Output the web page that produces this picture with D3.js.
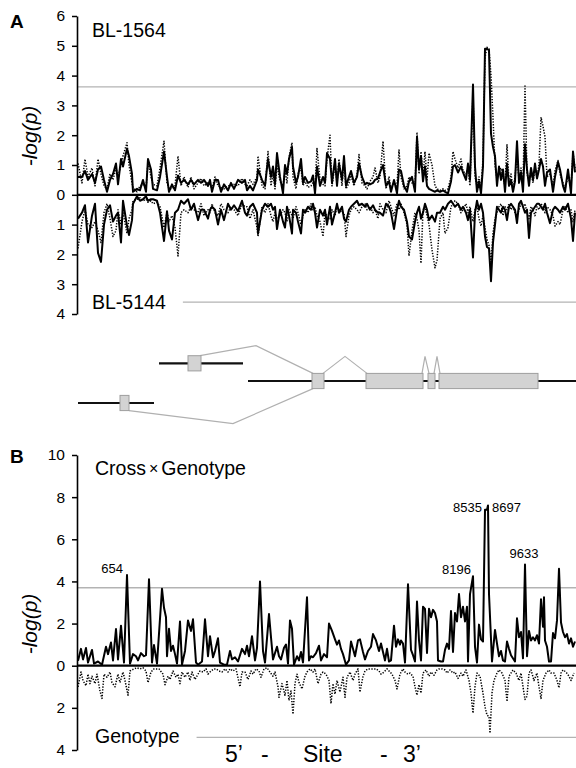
<!DOCTYPE html>
<html>
<head>
<meta charset="utf-8">
<script src="https://cdn.jsdelivr.net/npm/d3@7"></script>
<style>
  body { margin: 0; background: #fff; }
  svg { display: block; font-family: "Liberation Sans", Arial, sans-serif; }
</style>
</head>
<body>
<div id="chart"></div>
<script>
// ---- Panel A: BL-1564 (up) and BL-5144 (down), two tests each, same SNP sites
var aSites = [0,4,7,10,14,17,20,23,26,29,32,35,38,40,43,45,49,51,54,55,59,62,65,68,70,73,75,79,82,86,
  89,91,94,97,100,103,106,110,113,116,120,123,126,130,132,134,137,140,143,146,150,153,156,160,164,167,
  169,172,175,179,180,184,187,190,193,195,197,199,202,205,207,209,211,214,215,218,220,223,225,227,230,
  233,235,237,239,242,245,247,249,252,254,257,259,261,264,266,268,271,273,276,279,281,284,287,289,292,
  295,297,300,302,305,308,311,313,316,319,321,323,326,329,331,334,337,339,341,343,345,347,349,351,354,
  357,359,362,365,367,370,373,375,377,380,383,385,388,390,392,395,397,399,401,403,405,407,409,411,413,
  415,417,419,421,423,425,427,429,431,433,435,437,439,441,443,445,447,449,451,453,455,457,459,461,463,
  465,467,469,472,475,477,480,482,485,487,490,493,495,497];

var a1564Solid = [0.6,0.6,0.8,0.5,0.7,0.4,0.85,0.95,0.5,0.1,0.5,0.7,1.05,0.35,1.2,0.95,1.55,1.3,0.7,0.1,
  0.2,0.15,0.5,0.1,1.2,0.85,0.2,0.15,0.6,1.45,0.6,0.1,0.35,0.15,0.65,0.4,0.5,0.35,0.5,0.35,
  0.5,0.4,0.5,0.3,0.5,0.1,0.5,0.5,0.1,0.35,0.15,0.4,0.2,0.5,0.4,0.5,
  0.15,0.3,0.15,0.5,0.85,0.5,0.3,1.2,0.6,0.95,0.35,1.4,0.6,0.05,1.0,0.7,1.2,1.6,0.95,0.4,
  0.6,1.2,0.4,0.6,0.4,0.45,0.65,0.05,0.95,0.3,0.6,0.4,1.4,1.2,0.4,1.2,0.3,1.05,0.5,1.3,
  0.3,0.6,0.8,0.4,0.6,1.05,0.6,0.35,0.4,0.35,0.4,0.5,0.55,
  0.75,1.0,0.3,0.45,0.1,0.5,0.05,0.85,0.8,0.3,0.1,0.45,0.6,0.1,1.95,0.85,1.3,0.45,0.95,0.3,
  0.2,0.15,0.1,0.15,0.1,0.15,0.1,0.05,0.45,0.95,1.0,0.75,0.95,0.75,0.5,1.05,0.5,3.7,0.95,0.1,
  0.45,0.05,0.95,4.9,4.9,4.85,2.05,1.6,1.3,0.3,0.95,0.5,0.85,0.1,1.05,0.3,0.5,0.1,0.45,1.8,
  0.4,0.75,0.1,1.7,0.85,0.3,0.9,0.5,1.05,0.55,0.85,1.2,0.95,0.3,0.75,0.85,0.1,0.6,1.1,0.85,
  0.3,0.1,0.85,0.05,1.45,0.75];

var a1564Dotted = [1.05,0.4,1.2,0.6,0.9,0.3,1.2,0.7,0.3,0.2,0.7,0.5,0.9,0.6,1.0,1.3,1.75,1.0,0.4,0.25,
  0.1,0.3,0.35,0.2,1.1,0.6,0.35,0.3,0.9,1.8,0.4,0.2,0.2,0.3,1.3,0.3,0.6,0.25,0.6,0.2,
  0.4,0.55,0.3,0.4,0.35,0.2,0.6,0.3,0.25,0.2,0.3,0.3,0.35,0.3,0.55,0.35,
  0.3,0.5,0.35,0.6,1.3,0.3,0.2,1.45,0.3,0.7,0.2,1.0,0.45,0.3,0.8,0.4,1.25,1.75,0.6,0.2,
  0.7,0.9,0.3,0.45,0.25,0.3,0.4,0.2,1.55,0.5,0.35,0.3,1.2,2.0,0.3,1.0,0.4,1.2,0.3,1.15,
  0.2,0.4,0.65,0.3,0.7,1.35,0.4,0.3,0.2,0.45,0.6,0.9,0.4,
  0.6,1.8,0.2,0.6,0.2,0.4,0.3,1.5,0.6,0.2,0.3,0.6,0.4,0.3,2.1,0.7,1.45,0.6,1.45,0.5,
  1.4,1.0,0.3,0.2,0.15,0.2,0.15,0.2,0.6,1.45,1.2,0.9,1.2,0.8,0.7,0.9,0.3,3.4,0.6,0.3,
  0.6,0.2,1.2,4.6,4.95,4.9,4.0,2.6,1.0,0.5,0.8,0.9,0.6,0.3,1.7,0.4,0.7,0.2,0.6,1.3,
  0.5,0.9,0.3,3.65,0.7,0.5,0.8,0.4,0.9,0.6,1.0,2.6,2.3,1.95,0.6,0.7,0.3,0.8,1.15,0.7,
  0.4,0.2,0.6,0.3,1.4,0.9];

var a5144Solid = [0.8,0.6,0.35,1.6,0.7,0.3,1.95,2.25,1.0,0.5,0.35,0.9,0.7,0.6,1.6,0.2,1.05,1.35,0.85,0.3,
  0.05,0.2,0.15,0.05,0.2,0.15,0.15,0.2,0.6,1.55,0.55,1.2,1.5,0.6,0.5,0.2,0.3,0.15,0.5,0.3,
  0.85,0.5,0.5,0.8,0.5,0.4,0.5,1.0,0.5,0.85,0.3,0.5,0.35,0.55,0.2,0.6,
  0.7,0.4,0.3,0.6,1.3,0.5,0.3,0.4,0.3,0.5,0.4,1.15,0.5,0.9,1.1,0.4,0.7,1.3,0.5,0.6,
  0.9,1.3,0.5,0.6,0.4,0.5,0.3,0.6,1.1,0.5,0.7,0.5,1.0,0.4,1.0,0.6,0.3,0.6,0.4,0.8,
  0.9,0.5,0.4,0.3,0.2,0.35,0.3,0.4,0.3,0.5,0.35,0.5,0.6,
  0.6,0.7,0.3,0.4,0.6,1.15,0.5,0.2,0.4,0.5,0.9,1.4,1.5,0.9,0.6,0.4,0.8,0.6,0.3,0.5,
  0.85,0.7,0.9,0.6,0.6,0.4,0.5,0.3,0.2,0.3,0.4,0.3,0.5,0.4,0.6,0.85,0.5,2.1,0.6,0.2,
  0.5,0.3,0.6,1.4,1.75,1.8,2.9,1.6,1.0,0.4,0.5,0.6,0.4,0.5,0.85,0.4,0.3,0.4,0.5,0.95,
  0.3,0.2,0.4,0.6,0.5,1.45,0.6,0.5,0.4,0.3,0.3,0.4,0.5,0.3,0.6,0.95,0.5,0.4,0.5,0.6,
  0.4,0.5,0.3,0.8,1.55,0.6];

var a5144Dotted = [1.8,0.9,0.5,1.0,1.1,0.9,1.2,1.6,0.6,0.3,0.8,1.4,1.2,0.5,1.0,0.6,1.3,0.8,0.5,0.2,
  0.15,0.1,0.2,0.15,0.25,0.2,0.3,0.25,0.4,1.1,0.6,0.9,0.7,1.1,2.05,0.6,0.5,0.6,0.4,0.5,
  0.6,0.3,0.7,0.5,0.6,0.3,0.6,0.7,0.3,0.5,0.6,0.4,0.5,0.7,0.3,0.4,
  0.4,0.8,0.5,1.1,1.4,0.4,0.6,0.3,0.7,0.9,0.6,0.8,0.7,0.5,0.6,0.9,0.5,0.7,0.8,0.4,
  0.6,1.0,0.7,0.5,0.6,0.3,0.5,0.4,0.7,0.9,1.4,0.6,0.7,0.8,0.5,0.7,0.4,0.5,0.6,0.6,
  1.4,0.7,0.5,0.4,0.5,0.6,0.4,0.3,0.5,0.4,0.6,0.5,0.8,
  0.3,0.5,0.6,0.2,0.4,0.7,0.3,0.5,0.3,0.6,1.0,2.05,1.2,0.6,0.8,1.2,2.3,0.5,0.4,0.7,
  1.0,1.85,2.45,2.2,0.8,0.6,1.3,1.1,0.4,0.3,0.2,0.3,0.6,0.5,0.3,0.6,0.4,0.9,0.5,0.4,
  0.8,1.05,0.7,1.1,1.5,1.7,2.3,1.3,0.8,0.6,0.4,0.3,0.7,0.4,0.5,0.3,0.5,0.4,0.6,0.7,
  0.5,0.3,0.4,0.3,0.6,0.8,0.4,0.5,0.7,0.4,0.5,0.3,0.4,0.6,0.4,0.5,0.7,1.05,0.9,1.0,
  0.5,0.4,0.6,0.5,0.9,0.5];

// ---- Panel B: Cross x Genotype (up), Genotype (down)
var bCrossSites = [0,3,5,8,10,14,16,20,24,28,30,33,35,38,40,43,46,49,52,55,58,60,63,66,68,71,74,76,79,84,
  86,88,89,91,93,95,97,99,102,104,107,110,113,115,118,120,124,127,130,132,135,137,140,142,146,149,152,154,157,160,
  164,167,169,171,174,177,179,182,185,187,191,193,195,199,201,203,206,208,210,212,214,216,219,221,223,225,229,231,233,235,
  238,241,243,246,249,251,254,257,259,261,263,265,268,271,273,275,277,280,282,285,287,290,293,295,298,301,303,
  307,309,311,313,316,318,320,322,323,325,327,330,333,335,337,339,341,343,345,347,349,351,353,355,357,359,360,363,365,367,
  369,371,373,375,377,379,381,383,385,387,389,390,392,395,397,399,401,403,405,407,409,410,411,414,417,419,421,423,425,427,
  429,431,433,437,439,441,443,445,447,449,451,453,455,457,459,461,463,465,466,467,469,471,473,475,477,479,481,483,485,487,
  489,491,493,495,497];
var bCrossVals = [0.24,0.8,0.3,0.84,0.15,0.75,0.1,0.2,0.05,0.9,0.55,1.1,0.25,1.74,0.3,1.9,0.15,4.3,0.1,0.55,
  0.45,0.25,0.6,0.45,0.5,4.1,0.15,0.98,0.1,3.65,2.75,2.3,0.45,1.75,0.7,0.95,0.55,0.1,2.1,0.05,
  0.7,2.15,1.65,2.2,0.15,0.05,0.2,2.2,0.45,1.4,0.4,0.7,1.3,0.15,0.05,0.05,0.7,0.3,0.4,0.2,
  0.8,0.55,0.95,0.45,1.4,0.25,0.85,4.0,0.7,0.15,2.45,1.35,0.3,0.9,0.45,0.3,0.85,1.0,0.1,2.15,
  1.75,0.05,0.45,0.25,0.65,0.15,3.25,0.25,0.45,0.4,0.6,0.95,0.25,0.55,0.4,2.0,1.65,1.25,1.0,1.2,
  0.8,0.55,0.05,0.25,1.15,0.8,0.45,1.2,1.25,0.65,0.3,0.7,0.9,1.5,1.2,0.7,1.05,
  0.25,0.8,0.2,0.25,1.9,0.9,1.25,1.0,1.2,1.05,0.15,3.87,0.75,0.5,0.2,3.05,1.2,0.25,2.8,2.7,
  0.6,2.7,2.3,2.65,2.5,2.1,0.25,0.2,0.2,0.75,1.05,0.8,2.6,0.65,2.5,2.1,3.4,2.3,2.8,2.1,
  2.8,0.2,3.4,4.25,0.9,0.15,1.95,1.25,1.15,7.4,7.4,7.6,3.4,0.2,1.7,1.05,0.45,0.7,0.25,0.2,
  1.15,0.8,0.5,0.2,2.25,1.35,1.6,0.35,4.8,0.45,1.65,1.2,1.35,1.2,1.45,1.05,3.15,1.85,3.25,1.2,
  0.9,0.2,0.2,1.55,1.3,2.15,4.6,2.05,1.6,1.35,1.5,1.05,1.3,0.9,1.15];

var bGenoSites = [0,3,5,8,10,12,14,17,19,22,24,26,29,32,34,37,40,42,45,47,50,52,56,59,62,65,68,70,73,76,
  78,81,85,87,90,92,95,98,100,102,104,107,110,112,114,117,120,122,125,128,130,133,136,138,141,144,147,150,152,155,
  158,162,164,167,170,173,175,178,181,183,186,189,192,195,197,200,201,204,207,209,211,213,215,217,219,221,224,227,229,232,
  235,237,240,243,245,248,251,253,255,257,259,262,265,267,269,272,275,277,280,282,285,287,290,293,295,298,301,303,306,309,
  311,314,317,319,322,325,327,330,332,335,337,339,341,343,345,348,351,353,356,359,361,364,367,369,372,375,377,380,383,385,
  388,391,393,395,397,399,402,405,407,409,411,412,414,416,419,421,424,427,429,431,433,435,438,441,443,445,447,449,451,453,
  456,459,461,463,465,468,471,473,476,479,481,483,485,488,491,493,496];
var bGenoVals = [1.0,0.3,0.7,0.95,0.4,0.85,0.5,0.85,0.4,1.2,1.55,0.4,0.55,0.3,0.8,1.0,0.4,0.8,0.3,0.7,
  1.4,0.25,0.15,0.1,0.15,0.1,0.25,0.8,0.3,0.15,0.15,0.15,0.4,0.9,0.5,0.65,0.25,0.55,0.4,0.85,
  0.3,0.55,0.3,0.7,0.3,0.65,0.4,0.25,0.3,0.15,0.4,0.25,0.15,0.15,0.25,0.3,0.15,0.3,0.15,0.25,
  0.15,1.0,0.3,
  0.3,0.65,0.25,0.4,0.15,0.25,0.55,0.15,0.1,0.3,0.5,0.3,1.0,1.5,0.85,1.4,0.7,1.65,1.2,2.3,
  0.85,0.4,0.8,1.1,0.5,0.3,0.15,0.3,0.15,0.85,0.4,0.3,0.4,0.7,1.8,0.85,1.35,0.7,1.25,0.55,
  1.5,0.55,0.3,0.7,0.4,0.15,1.25,0.5,0.25,0.15,0.15,0.15,0.15,0.25,0.4,0.3,0.15,0.25,0.4,0.7,
  1.1,0.4,0.15,0.3,0.4,
  0.35,0.5,1.0,1.4,0.9,1.3,0.35,0.2,0.5,0.3,0.45,0.2,0.15,0.15,0.2,0.35,0.2,0.35,0.3,0.6,
  0.35,0.5,0.2,0.7,1.3,2.25,1.0,0.35,0.5,1.3,1.95,2.35,2.4,3.2,1.3,0.7,0.35,0.2,0.35,0.7,
  1.7,0.5,0.35,0.2,0.35,0.7,0.35,1.0,1.6,1.45,0.35,0.2,0.7,0.35,1.0,1.55,0.7,0.35,0.2,0.35,
  0.35,0.7,1.05,0.35,0.2,0.3,0.5,0.7,0.35];

var aTicks = [6, 5, 4, 3, 2, 1, 0, -1, -2, -3, -4];
var bTicks = [10, 8, 6, 4, 2, 0, -2, -4];

// peak annotations in panel B: [site, value, label]
var bPeakLabels = [[49, 4.3, '654'], [395, 4.25, '8196'], [407, 7.4, '8535'], [410, 7.6, '8697'], [447, 4.8, '9633']];

// x axis title pieces: [text, site where the piece starts]
var xTitleParts = [['5\u2019', 147], ['-', 183], ['Site', 225], ['-', 302], ['3\u2019', 325]];

// gene model under panel A (sites on the same axis as the plots)
var transcripts = [
  {row: 0, span: [81, 165], exons: [[110, 123]]},
  {row: 1, span: [170, 498], exons: [[234, 246], [288, 345], [350, 357], [361, 460]]},
  {row: 2, span: [0, 76], exons: [[42, 51]]}
];
// splice links: from [row, site] to [row, site], apex site, side
var junctions = [
  {from: [0, 122], to: [1, 235], apex: 178, side: 'top'},
  {from: [1, 245], to: [1, 289], apex: 267, side: 'top'},
  {from: [2, 51], to: [1, 235], apex: 155, side: 'bottom'},
  {from: [1, 344], to: [1, 351], apex: 347, side: 'top'},
  {from: [1, 356], to: [1, 362], apex: 359, side: 'top'}
];

var W = 576, H = 768;
var svg = d3.select('#chart').append('svg').attr('width', W).attr('height', H);
var x = d3.scaleLinear().domain([0, 498]).range([78, 576]);
var axisX = 77;

function drawPanel(p) {
  var y = d3.scaleLinear().domain(p.domain).range(p.range);
  var g = svg.append('g');

  g.append('line')
      .attr('x1', axisX).attr('x2', W)
      .attr('y1', y(p.upperThr)).attr('y2', y(p.upperThr))
      .attr('stroke', '#b3b3b3').attr('stroke-width', 1.4);

  g.append('text').attr('x', p.labelX).attr('y', p.topLabelY)
      .attr('font-size', 19.5).html(p.topLabel);
  var low = g.append('text').attr('x', p.labelX).attr('y', p.bottomLabelY)
      .attr('font-size', 19.5).text(p.bottomLabel);
  var bb = low.node().getBBox();
  g.append('line')
      .attr('x1', bb.x + bb.width + 17).attr('x2', W)
      .attr('y1', y(-p.lowerThr)).attr('y2', y(-p.lowerThr))
      .attr('stroke', '#b3b3b3').attr('stroke-width', 1.4);

  p.series.forEach(function(s) {
    var line = d3.line()
        .x(function(d, i) { return x(s.sites[i]); })
        .y(function(d) { return y(s.sign * d); });
    g.append('path').datum(s.values)
        .attr('d', line)
        .attr('fill', 'none')
        .attr('stroke', '#000')
        .attr('stroke-width', s.dotted ? 1.5 : 2)
        .attr('stroke-linejoin', 'round')
        .attr('stroke-dasharray', s.dotted ? '1.3,1.5' : null);
  });

  g.append('line')
      .attr('x1', axisX).attr('x2', W)
      .attr('y1', y(0)).attr('y2', y(0))
      .attr('stroke', '#000').attr('stroke-width', 2.2);

  var axis = d3.axisLeft(y).tickValues(p.ticks)
      .tickFormat(function(d) { return Math.abs(d); })
      .tickSize(5).tickSizeOuter(0).tickPadding(7);
  var ag = g.append('g').attr('transform', 'translate(' + axisX + ',0)').call(axis);
  ag.select('.domain').attr('stroke-width', 1.6);
  ag.selectAll('.tick line').attr('stroke-width', 1.5);
  ag.selectAll('.tick text').attr('font-size', 15.5)
      .attr('font-family', '"Liberation Sans", Arial, sans-serif').attr('fill', '#000');

  g.append('text')
      .attr('transform', 'translate(37,' + p.yLabelY + ') rotate(-90)')
      .attr('text-anchor', 'middle')
      .attr('font-size', 21).attr('font-style', 'italic')
      .text('-log(p)');

  g.append('text').attr('x', 10).attr('y', p.letterY)
      .attr('font-size', 19).attr('font-weight', 'bold').text(p.letter);

  return y;
}

drawPanel({
  letter: 'A', letterY: 28,
  domain: [-4, 6], range: [314, 16], ticks: aTicks,
  upperThr: 3.62, lowerThr: 3.6,
  labelX: 92, topLabel: 'BL-1564', topLabelY: 37,
  bottomLabel: 'BL-5144', bottomLabelY: 309,
  yLabelY: 136,
  series: [
    {sites: aSites, values: a1564Dotted, sign: 1, dotted: true},
    {sites: aSites, values: a5144Dotted, sign: -1, dotted: true},
    {sites: aSites, values: a1564Solid, sign: 1},
    {sites: aSites, values: a5144Solid, sign: -1}
  ]
});

var yB = drawPanel({
  letter: 'B', letterY: 463,
  domain: [-4, 10], range: [750, 455], ticks: bTicks,
  upperThr: 3.7, lowerThr: 3.4,
  labelX: 95,
  topLabel: 'Cross<tspan font-size="16" dx="3" dy="-1">×</tspan><tspan dx="3" dy="1">Genotype</tspan>',
  topLabelY: 475,
  bottomLabel: 'Genotype', bottomLabelY: 743,
  yLabelY: 624,
  series: [
    {sites: bGenoSites, values: bGenoVals, sign: -1, dotted: true},
    {sites: bCrossSites, values: bCrossVals, sign: 1}
  ]
});

// peak labels
var labelOffsets = {'654': [-4, -2, 'end'], '8196': [-2, -2, 'end'], '8535': [-3, 2, 'end'],
                    '8697': [4, 6.5, 'start'], '9633': [-1, -7, 'middle']};
svg.append('g').selectAll('text').data(bPeakLabels).enter().append('text')
    .attr('x', function(d) { return x(d[0]) + labelOffsets[d[2]][0]; })
    .attr('y', function(d) { return yB(d[1]) + labelOffsets[d[2]][1]; })
    .attr('text-anchor', function(d) { return labelOffsets[d[2]][2]; })
    .attr('font-size', 13)
    .text(function(d) { return d[2]; });

// x axis title
svg.append('g').selectAll('text').data(xTitleParts).enter().append('text')
    .attr('x', function(d) { return x(d[1]); })
    .attr('y', 762)
    .attr('text-anchor', 'start')
    .attr('font-size', 23)
    .text(function(d) { return d[0]; });

// gene model
var rowY = d3.scaleLinear().domain([0, 1, 2]).range([363.3, 381, 403]);
var half = 7.6;
var gm = svg.append('g');
junctions.forEach(function(j) {
  var s = j.side === 'top' ? -1 : 1;
  var y1 = rowY(j.from[0]) + s * half, y2 = rowY(j.to[0]) + s * half;
  var apexY = j.side === 'top' ? Math.min(y1, y2) - (j.from[0] === j.to[0] ? 17 : 10)
                               : Math.max(y1, y2) + 13;
  gm.append('path')
      .attr('d', 'M' + x(j.from[1]) + ',' + y1 + 'L' + x(j.apex) + ',' + apexY + 'L' + x(j.to[1]) + ',' + y2)
      .attr('fill', 'none').attr('stroke', '#b0b0b0').attr('stroke-width', 1.2);
});
transcripts.forEach(function(t) {
  gm.append('line')
      .attr('x1', x(t.span[0])).attr('x2', x(t.span[1]))
      .attr('y1', rowY(t.row)).attr('y2', rowY(t.row))
      .attr('stroke', '#111').attr('stroke-width', 2.2);
  gm.selectAll(null).data(t.exons).enter().append('rect')
      .attr('x', function(e) { return x(e[0]); })
      .attr('width', function(e) { return x(e[1]) - x(e[0]); })
      .attr('y', rowY(t.row) - half).attr('height', 2 * half)
      .attr('fill', '#d3d3d3').attr('stroke', '#9e9e9e').attr('stroke-width', 1);
});
</script>
</body>
</html>
